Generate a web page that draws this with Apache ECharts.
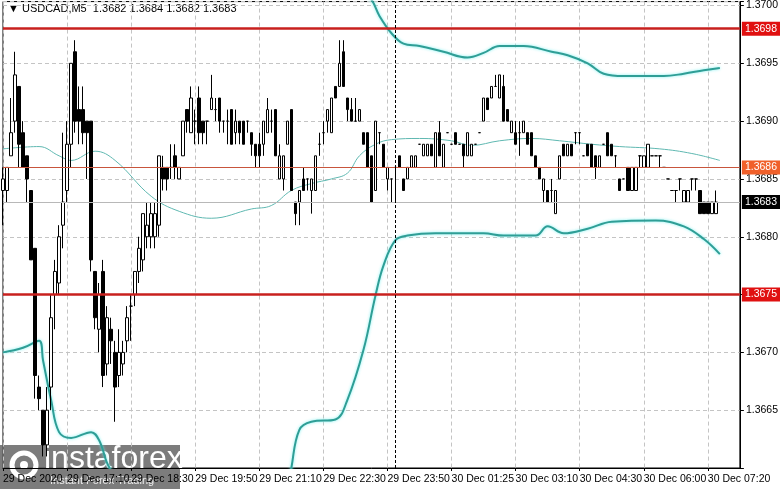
<!DOCTYPE html>
<html><head><meta charset="utf-8">
<script src="https://cdn.jsdelivr.net/npm/echarts@6/dist/echarts.min.js"></script>
<style>html,body{margin:0;padding:0;background:#fff}#c{width:781px;height:489px}</style>
</head><body><div id="c"></div>
<script>
// [open, close, low, high]
const candles = [
[1.3684,1.3685,1.3681,1.3686],[1.3684,1.3686,1.3683,1.3686],[1.3687,1.3689,1.3687,1.3692],[1.3690,1.3694,1.3689,1.3696],
[1.3693,1.3688,1.3686,1.3693],[1.3689,1.3686,1.3686,1.3690],[1.3687,1.3685,1.3683,1.3687],[1.3684,1.3678,1.3678,1.3684],
[1.3679,1.3668,1.3666,1.3679],[1.3667,1.3666,1.3665,1.3668],[1.3665,1.3662,1.3661,1.3665],[1.3662,1.3665,1.3661,1.3667],
[1.3667,1.3673,1.3665,1.3675],[1.3675,1.3677,1.3672,1.3678],[1.3676,1.3680,1.3675,1.3681],[1.3681,1.3683,1.3679,1.3689],
[1.3684,1.3688,1.3683,1.3690],[1.3688,1.3695,1.3686,1.3695],[1.3696,1.3690,1.3689,1.3697],[1.3691,1.3690,1.3688,1.3693],
[1.3691,1.3689,1.3688,1.3693],[1.3690,1.3689,1.3685,1.3690],[1.3690,1.3678,1.3677,1.3690],[1.3677,1.3673,1.3672,1.3677],
[1.3672,1.3675,1.3670,1.3676],[1.3677,1.3668,1.3667,1.3678],[1.3669,1.3673,1.3668,1.3674],[1.3672,1.3671,1.3669,1.3673],
[1.3670,1.3667,1.3664,1.3671],[1.3668,1.3670,1.3667,1.3672],[1.3669,1.3670,1.3668,1.3671],[1.3671,1.3673,1.3670,1.3674],
[1.3674,1.3674,1.3671,1.3675],[1.3675,1.3677,1.3674,1.3677],[1.3677,1.3679,1.3676,1.3680],[1.3678,1.3682,1.3677,1.3682],
[1.3680,1.3681,1.3679,1.3683],[1.3680,1.3682,1.3679,1.3683],[1.3680,1.3682,1.3679,1.3683],[1.3681,1.3687,1.3680,1.3687],
[1.3686,1.3685,1.3684,1.3687],[1.3686,1.3685,1.3684,1.3686],[1.3686,1.3686,1.3685,1.3688],[1.3687,1.3686,1.3685,1.3688],
[1.3685,1.3686,1.3685,1.3686],[1.3687,1.3690,1.3687,1.3690],[1.3691,1.3690,1.3689,1.3691],[1.3689,1.3692,1.3689,1.3693],
[1.3690,1.3690,1.3688,1.3691],[1.3692,1.3689,1.3688,1.3693],[1.3690,1.3689,1.3688,1.3690],[1.3690,1.3690,1.3688,1.3690],
[1.3691,1.3692,1.3691,1.3694],[1.3691,1.3691,1.3690,1.3692],[1.3692,1.3690,1.3689,1.3692],[1.3690,1.3690,1.3689,1.3690],
[1.3690,1.3690,1.3688,1.3691],[1.3691,1.3688,1.3688,1.3691],[1.3689,1.3690,1.3688,1.3691],[1.3690,1.3689,1.3688,1.3690],
[1.3690,1.3688,1.3688,1.3690],[1.3690,1.3690,1.3689,1.3690],[1.3689,1.3688,1.3687,1.3689],[1.3688,1.3687,1.3686,1.3688],
[1.3688,1.3687,1.3686,1.3689],[1.3688,1.3690,1.3687,1.3690],[1.3689,1.3691,1.3689,1.3692],[1.3690,1.3690,1.3689,1.3691],
[1.3691,1.3687,1.3687,1.3691],[1.3685,1.3687,1.3685,1.3688],[1.3685,1.3687,1.3684,1.3687],[1.3688,1.3690,1.3688,1.3690],
[1.3691,1.3684,1.3684,1.3691],[1.3683,1.3682,1.3681,1.3683],[1.3683,1.3684,1.3681,1.3684],[1.3685,1.3684,1.3684,1.3686],
[1.3685,1.3685,1.3684,1.3685],[1.3684,1.3685,1.3682,1.3685],[1.3684,1.3687,1.3684,1.3687],[1.3688,1.3688,1.3687,1.3689],
[1.3689,1.3689,1.3688,1.3690],[1.3690,1.3691,1.3689,1.3691],[1.3689,1.3692,1.3689,1.3692],[1.3693,1.3692,1.3692,1.3693],
[1.3693,1.3695,1.3693,1.3697],[1.3696,1.3693,1.3693,1.3697],[1.3692,1.3691,1.3690,1.3692],[1.3691,1.3690,1.3690,1.3692],
[1.3690,1.3690,1.3690,1.3692],[1.3690,1.3691,1.3690,1.3691],[1.3689,1.3688,1.3688,1.3689],[1.3689,1.3686,1.3686,1.3689],
[1.3687,1.3683,1.3683,1.3687],[1.3684,1.3690,1.3684,1.3690],[1.3689,1.3689,1.3688,1.3689],[1.3688,1.3686,1.3686,1.3688],
[1.3685,1.3686,1.3684,1.3686],[1.3685,1.3685,1.3683,1.3685],[1.3686,1.3686,1.3683,1.3686],[1.3687,1.3686,1.3686,1.3687],
[1.3685,1.3684,1.3684,1.3685],[1.3685,1.3686,1.3685,1.3686],[1.3686,1.3687,1.3686,1.3687],[1.3686,1.3687,1.3686,1.3687],
[1.3688,1.3688,1.3688,1.3688],[1.3687,1.3688,1.3687,1.3688],[1.3687,1.3688,1.3687,1.3688],[1.3688,1.3687,1.3687,1.3688],
[1.3686,1.3689,1.3686,1.3689],[1.3689,1.3687,1.3687,1.3690],[1.3686,1.3688,1.3686,1.3688],[1.3689,1.3689,1.3689,1.3689],
[1.3688,1.3688,1.3688,1.3688],[1.3689,1.3688,1.3688,1.3689],[1.3688,1.3688,1.3688,1.3688],[1.3688,1.3687,1.3686,1.3688],
[1.3687,1.3689,1.3687,1.3689],[1.3687,1.3688,1.3687,1.3688],[1.3688,1.3688,1.3688,1.3688],[1.3689,1.3689,1.3689,1.3689],
[1.3690,1.3692,1.3690,1.3692],[1.3692,1.3691,1.3691,1.3692],[1.3692,1.3693,1.3692,1.3693],[1.3693,1.3693,1.3693,1.3694],
[1.3692,1.3694,1.3692,1.3694],[1.3693,1.3690,1.3690,1.3694],[1.3691,1.3690,1.3690,1.3691],[1.3689,1.3690,1.3689,1.3690],
[1.3689,1.3688,1.3688,1.3690],[1.3689,1.3689,1.3687,1.3690],[1.3689,1.3690,1.3689,1.3690],[1.3689,1.3688,1.3688,1.3689],
[1.3689,1.3687,1.3687,1.3689],[1.3687,1.3686,1.3686,1.3687],[1.3686,1.3685,1.3685,1.3686],[1.3684,1.3685,1.3683,1.3685],
[1.3684,1.3683,1.3683,1.3684],[1.3684,1.3684,1.3683,1.3685],[1.3682,1.3684,1.3682,1.3684],[1.3685,1.3687,1.3685,1.3687],
[1.3688,1.3687,1.3687,1.3688],[1.3687,1.3688,1.3687,1.3688],[1.3688,1.3687,1.3687,1.3688],[1.3689,1.3689,1.3688,1.3689],
[1.3689,1.3689,1.3688,1.3689],[1.3687,1.3687,1.3687,1.3687],[1.3688,1.3687,1.3687,1.3688],[1.3688,1.3686,1.3686,1.3688],
[1.3687,1.3686,1.3685,1.3687],[1.3686,1.3687,1.3686,1.3687],[1.3688,1.3688,1.3688,1.3688],[1.3689,1.3687,1.3687,1.3689],
[1.3688,1.3687,1.3687,1.3688],[1.3687,1.3687,1.3686,1.3687],[1.3685,1.3684,1.3684,1.3685],[1.3685,1.3685,1.3685,1.3685],
[1.3686,1.3684,1.3684,1.3686],[1.3684,1.3686,1.3684,1.3686],[1.3684,1.3686,1.3684,1.3686],[1.3687,1.3687,1.3686,1.3687],
[1.3686,1.3687,1.3686,1.3687],[1.3686,1.3688,1.3686,1.3688],[1.3687,1.3687,1.3687,1.3687],[1.3687,1.3687,1.3687,1.3687],
[1.3687,1.3687,1.3686,1.3687],[1.3686,1.3686,1.3686,1.3686],[1.3685,1.3685,1.3685,1.3685],[1.3684,1.3684,1.3684,1.3684],
[1.3684,1.3684,1.3683,1.3684],[1.3685,1.3685,1.3684,1.3685],[1.3683,1.3684,1.3683,1.3684],[1.3683,1.3684,1.3683,1.3684],
[1.3685,1.3685,1.3684,1.3685],[1.3685,1.3685,1.3684,1.3685],[1.3684,1.3682,1.3682,1.3684],[1.3683,1.3682,1.3682,1.3683],
[1.3683,1.3682,1.3682,1.3683],[1.3682,1.3683,1.3682,1.3683],[1.3682,1.3683,1.3682,1.3684]
];
const totalSlots = 185;
const tickLabels = ["29 Dec 2020","29 Dec 17:10","29 Dec 18:30","29 Dec 19:50","29 Dec 21:10","29 Dec 22:30","29 Dec 23:50","30 Dec 01:25","30 Dec 03:10","30 Dec 04:30","30 Dec 06:00","30 Dec 07:20"];
// [bar index, value]
const bandMiddle = [[0,1.36876],[9,1.36878],[14,1.36870],[17,1.36866],[23,1.36874],[28,1.36866],[37,1.36835],[44,1.36822],[52,1.36816],[62,1.36824],[67,1.36827],[72,1.36840],[77,1.36846],[82,1.36850],[86,1.36855],[89,1.36870],[93,1.36880],[97,1.36884],[104,1.36885],[112,1.36883],[117,1.36879],[124,1.36883],[132,1.36885],[139,1.36883],[147,1.36880],[154,1.36878],[164,1.36876],[172,1.36872],[179,1.36866]];
const bandUpper = [[0,1.3706],[40,1.3708],[80,1.3706],[90,1.3701],[92,1.37005],[94,1.36991],[97,1.36976],[100,1.36967],[104,1.36965],[110,1.36960],[116,1.36955],[120,1.36959],[124,1.36965],[130,1.36965],[137,1.36960],[141,1.36957],[146,1.36950],[150,1.36941],[155,1.36939],[165,1.36939],[170,1.36941],[175,1.36944],[179,1.36946]];
const bandLower = [[0,1.36700],[5,1.36704],[9,1.36710],[10,1.36693],[12,1.36659],[14,1.36631],[17,1.36626],[22,1.36631],[24,1.36624],[27,1.36598],[40,1.3655],[60,1.3652],[70,1.3656],[72,1.36600],[74,1.36633],[77,1.36640],[83,1.36642],[86,1.36659],[90,1.36702],[93,1.36749],[95,1.36775],[98,1.36797],[101,1.36801],[108,1.36803],[120,1.36803],[125,1.36801],[133,1.36801],[136,1.36809],[140,1.36803],[146,1.36807],[152,1.36813],[163,1.36814],[170,1.36809],[175,1.36798],[179,1.36785]];
const levelStrongHigh = 1.3698, levelStrongLow = 1.3675, levelMid = 1.3686, levelLast = 1.3683;
const separatorIndex = 98;

const cats = []; for (let i=0;i<totalSlots;i++) cats.push(String(i));
const every16 = (i)=> i%16===0;
const chart = echarts.init(document.getElementById('c'));
const ff = 'Liberation Sans, Arial, sans-serif';
const bandStyle = {color:'#2f9e96', width:2, shadowColor:'rgba(110,240,240,0.9)', shadowBlur:3};
const hl = (v, line, bg) => ({yAxis:v, lineStyle:line, label:{show:true,position:'end',distance:2,backgroundColor:bg,color:'#fff',fontSize:10.5,fontFamily:ff,padding:[2,3,1,3],formatter:v.toFixed(4)}});
chart.setOption({
  animation:false,
  grid:{left:3,right:41,top:0,bottom:21,show:true,borderColor:'#000',borderWidth:1},
  xAxis:{type:'category',data:cats,boundaryGap:false,
    axisLine:{lineStyle:{color:'#000'}},
    axisTick:{interval:(i)=>every16(i),lineStyle:{color:'#000'},length:3},
    axisLabel:{interval:(i)=>every16(i),formatter:(v,i)=>tickLabels[i/16]||'',align:'left',color:'#000',fontSize:10.5,fontFamily:ff,margin:6},
    splitLine:{show:true,interval:(i)=>every16(i),lineStyle:{color:'#c4c4c4',type:[4,3]}}},
  yAxis:{type:'value',position:'right',min:1.3660,max:1.370034,interval:0.0005,
    axisLine:{show:true,lineStyle:{color:'#000'}},
    axisTick:{show:true,length:4,lineStyle:{color:'#000'}},
    axisLabel:{color:'#000',fontSize:10.5,fontFamily:ff,margin:6,
      formatter:(v)=> (v<1.36605||v>1.37001)?'':v.toFixed(4)},
    splitLine:{lineStyle:{color:'#c4c4c4',type:[4,3]}}},
  series:[
    {type:'line',data:bandMiddle,smooth:0.4,symbol:'none',lineStyle:{color:'#5fb8b1',width:1},z:2,
      markLine:{silent:true,symbol:'none',animation:false,precision:4,
        data:[
          hl(levelLast,{color:'#b8b8b8',width:1,type:'solid'},'#000'),
          hl(levelMid,{color:'#c8553c',width:1,type:'solid'},'#f0602a'),
          hl(levelStrongHigh,{color:'#c8201e',width:2.5,type:'solid'},'#e01010'),
          hl(levelStrongLow,{color:'#c8201e',width:2.5,type:'solid'},'#e01010'),
          {xAxis:String(separatorIndex),lineStyle:{color:'#000',width:1,type:[3,2]},label:{show:false}}
        ]}},
    {type:'line',data:bandUpper,smooth:0.4,symbol:'none',lineStyle:bandStyle,z:2},
    {type:'line',data:bandLower,smooth:0.4,symbol:'none',lineStyle:bandStyle,z:2},
    {type:'candlestick',data:candles,barWidth:3,z:3,
      itemStyle:{color:'#fff',color0:'#000',borderColor:'#000',borderColor0:'#000',borderWidth:1}}
  ],
  graphic:[
    {type:'text',left:8,top:3,style:{text:'\u25BC USDCAD,M5  1.3682 1.3684 1.3682 1.3683',fontSize:11,fontFamily:ff,fill:'#000'}},
    {type:'group',left:0,top:443,children:[
      {type:'rect',shape:{x:0,y:0,width:180,height:46},style:{fill:'rgba(95,95,95,0.82)'}},
      {type:'circle',shape:{cx:24,cy:20,r:12},style:{fill:'none',stroke:'#fff',lineWidth:5}},
      {type:'circle',shape:{cx:24,cy:20,r:4},style:{fill:'#fff'}},
      {type:'text',x:44,y:-2,style:{text:'instaforex',fontSize:32,fontFamily:ff,fill:'#fff'}},
      {type:'text',x:50,y:30,style:{text:'Instant Forex Trading',fontSize:11,fontFamily:ff,fill:'#eee'}}
    ]}
  ]
});
</script></body></html>
